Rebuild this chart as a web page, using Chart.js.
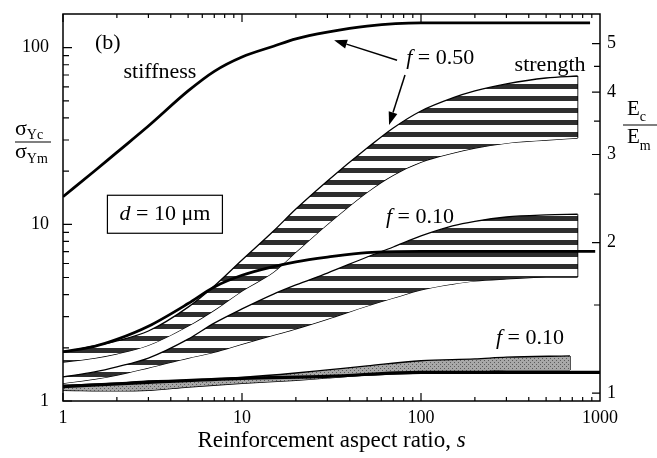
<!DOCTYPE html>
<html>
<head>
<meta charset="utf-8">
<title>Reinforcement aspect ratio</title>
<script src="https://cdn.jsdelivr.net/npm/chart.js@4.4.1/dist/chart.umd.min.js"></script>
<style>
  html, body { margin: 0; padding: 0; background: #fff; }
  #wrap { position: relative; width: 657px; height: 458px; }
</style>
</head>
<body>
<div id="wrap"><canvas id="chart"></canvas></div>
<script>
// aspect ratios where the strength bands were read
const sBand = [1, 1.5, 2, 3, 5, 7, 10, 15, 20, 30, 50, 70, 100, 150, 200, 300, 500, 750];
// f = 0.50 strength band (sigma_Yc / sigma_Ym)
const bandHiUpper = [1.89, 2.05, 2.19, 2.49, 3.40, 4.48, 6.28, 9.16, 12.2, 17.6, 27.0, 35.1, 43.8, 51.9, 56.9, 62.3, 67.3, 69.1];
const bandHiLower = [1.66, 1.75, 1.85, 2.07, 2.66, 3.27, 4.20, 5.37, 6.97, 10.0, 15.2, 19.0, 22.5, 25.3, 27.0, 28.8, 30.0, 30.8];
// f = 0.10 strength band
const bandLoUpper = [1.37, 1.46, 1.56, 1.75, 2.24, 2.76, 3.32, 4.03, 4.54, 5.30, 6.53, 7.44, 8.59, 9.79, 10.4, 11.0, 11.3, 11.4];
const bandLoLower = [1.26, 1.33, 1.40, 1.54, 1.75, 1.89, 2.10, 2.36, 2.56, 2.91, 3.45, 3.83, 4.25, 4.59, 4.78, 4.91, 5.03, 5.03];
// grey band, f = 0.10
const sGray = [1, 2, 3, 5, 10, 20, 30, 50, 100, 200, 300, 680];
const grayUpper = [1.23, 1.26, 1.30, 1.31, 1.36, 1.44, 1.50, 1.58, 1.69, 1.73, 1.77, 1.80];
const grayLower = [1.15, 1.14, 1.15, 1.20, 1.26, 1.31, 1.35, 1.40, 1.44, 1.46, 1.50, 1.50];
// stiffness curves (E_c / E_m, right axis)
const sStiffHi = [1, 1.5, 2, 3, 5, 7, 10, 15, 20, 30, 50, 100, 880];
const stiffHi = [2.47, 2.78, 3.03, 3.42, 4.02, 4.40, 4.70, 4.94, 5.11, 5.27, 5.42, 5.50, 5.50];
const sStiffLo = [1, 1.5, 2, 3, 5, 7, 10, 15, 20, 30, 50, 100, 940];
const stiffLo = [1.21, 1.24, 1.28, 1.36, 1.51, 1.63, 1.72, 1.79, 1.83, 1.87, 1.91, 1.92, 1.92];
const sBase = [1, 3, 10, 30, 100, 1000];
const baseLine = [1.03, 1.05, 1.07, 1.08, 1.10, 1.10];
// tick labels
const xTicks = [1, 10, 100, 1000];
const yTicks = [1, 10, 100];
const y2Ticks = [1, 2, 3, 4, 5];
const y2Minor = [1.5, 2.5, 3.5, 4.5];

const serif = "'Liberation Serif', 'Times New Roman', serif";
const canvas = document.getElementById('chart');
const ctx = canvas.getContext('2d');

// rayas horizontales de las bandas de resistencia
function stripePattern() {
    const c = document.createElement('canvas');
    c.width = 6; c.height = 12;
    const g = c.getContext('2d');
    g.fillStyle = '#ffffff'; g.fillRect(0, 0, 6, 12);
    g.fillStyle = '#2e2e2e'; g.fillRect(0, 0, 6, 5);
    return ctx.createPattern(c, 'repeat');
}
function grayPattern() {
    const c = document.createElement('canvas');
    c.width = 4; c.height = 4;
    const g = c.getContext('2d');
    g.fillStyle = '#a8a8a8'; g.fillRect(0, 0, 4, 4);
    g.fillStyle = '#5a5a5a'; g.fillRect(0, 0, 1, 1); g.fillRect(2, 2, 1, 1);
    return ctx.createPattern(c, 'repeat');
}

const pts = (xs, ys) => xs.map((s, i) => ({ x: s, y: ys[i] }));
const last = a => a[a.length - 1];
const edge = { borderColor: '#000', borderWidth: 1.3, pointRadius: 0, cubicInterpolationMode: 'monotone', fill: false, yAxisID: 'y', order: 2 };
const stripes = stripePattern();

function band(xs, up, lo, bg) {
    return [
        { ...edge, data: pts(xs, up), fill: '+1', backgroundColor: bg },
        { ...edge, data: pts(xs, lo) },
        { ...edge, data: [{ x: last(xs), y: last(lo) }, { x: last(xs), y: last(up) }] }
    ];
}
const thick = (xs, ys, w) => ({ borderColor: '#000', borderWidth: w, pointRadius: 0, cubicInterpolationMode: 'monotone', fill: false, yAxisID: 'y2', order: 0, data: pts(xs, ys) });

const datasets = [
    ...band(sBand, bandHiUpper, bandHiLower, stripes),
    ...band(sBand, bandLoUpper, bandLoLower, stripes),
    ...band(sGray, grayUpper, grayLower, grayPattern()),
    thick(sStiffHi, stiffHi, 2.8),
    thick(sStiffLo, stiffLo, 2.8),
    thick(sBase, baseLine, 3.2)
];

// notas dentro del grafico, en coordenadas de datos
const notes = [
    { parts: [['(b)', '']], at: [1.78, 106] },
    { parts: [['stiffness', '']], at: [3.48, 72.8] },
    { parts: [['f', 'italic '], [' = 0.50', '']], at: [128, 87.4] },
    { parts: [['strength', '']], at: [526, 79.7] },
    { parts: [['f', 'italic '], [' = 0.10', '']], at: [98.7, 11.0] },
    { parts: [['f', 'italic '], [' = 0.10', '']], at: [406, 2.27] },
    { parts: [['d', 'italic '], [' = 10 μm', '']], at: [3.71, 11.4], box: [115, 38] }
];
const arrows = [
    { from: [73.5, 4.63, 'y2'], to: [32.7, 5.08, 'y2'] },
    { from: [81.4, 70, 'y'], to: [66.3, 36.5, 'y'] }
];

function drawParts(c, parts, cx, cy, size) {
    let w = 0;
    for (const [t, st] of parts) { c.font = st + size + 'px ' + serif; w += c.measureText(t).width; }
    let x = cx - w / 2;
    c.textBaseline = 'middle'; c.textAlign = 'left';
    for (const [t, st] of parts) {
        c.font = st + size + 'px ' + serif;
        c.fillText(t, x, cy);
        x += c.measureText(t).width;
    }
    return w;
}

const decor = {
    id: 'decor',
    afterDraw(chart) {
        const { ctx: c, chartArea: a, scales } = chart;
        const { x, y, y2 } = scales;
        c.save();
        c.strokeStyle = '#000';
        c.fillStyle = '#000';
        // marcas hacia dentro
        c.lineWidth = 1.2;
        c.beginPath();
        for (let d = 1; d < 1000; d *= 10) {
            for (let m = 1; m < 10; m++) {
                const px = x.getPixelForValue(d * m);
                const len = m === 1 ? 8 : 4;
                c.moveTo(px, a.bottom); c.lineTo(px, a.bottom - len);
                c.moveTo(px, a.top); c.lineTo(px, a.top + len);
            }
        }
        for (let d = 1; d <= 100; d *= 10) {
            for (let m = 1; m < 10; m++) {
                const v = d * m;
                if (v > y.max) break;
                const py = y.getPixelForValue(v);
                const len = m === 1 ? 9 : 6;
                c.moveTo(a.left, py); c.lineTo(a.left + len, py);
            }
        }
        for (const v of y2Ticks) { const py = y2.getPixelForValue(v); c.moveTo(a.right, py); c.lineTo(a.right - 8, py); }
        for (const v of y2Minor) { const py = y2.getPixelForValue(v); c.moveTo(a.right, py); c.lineTo(a.right - 6, py); }
        c.stroke();
        c.lineWidth = 1.5;
        c.strokeRect(a.left, a.top, a.width, a.height);

        // notas
        for (const n of notes) {
            const cx = x.getPixelForValue(n.at[0]);
            const cy = y.getPixelForValue(n.at[1]);
            drawParts(c, n.parts, cx, cy, 22);
            if (n.box) {
                c.lineWidth = 1.2;
                c.strokeRect(cx - n.box[0] / 2, cy - n.box[1] / 2, n.box[0], n.box[1]);
            }
        }
        // flechas
        c.lineWidth = 1.5;
        for (const ar of arrows) {
            const x0 = x.getPixelForValue(ar.from[0]), y0 = scales[ar.from[2]].getPixelForValue(ar.from[1]);
            const x1 = x.getPixelForValue(ar.to[0]), y1 = scales[ar.to[2]].getPixelForValue(ar.to[1]);
            const ang = Math.atan2(y1 - y0, x1 - x0);
            const hl = 13, hw = 4.5;
            const bx = x1 - hl * Math.cos(ang), by = y1 - hl * Math.sin(ang);
            c.beginPath(); c.moveTo(x0, y0); c.lineTo(bx, by); c.stroke();
            c.beginPath();
            c.moveTo(x1, y1);
            c.lineTo(bx + hw * Math.sin(ang), by - hw * Math.cos(ang));
            c.lineTo(bx - hw * Math.sin(ang), by + hw * Math.cos(ang));
            c.closePath(); c.fill();
        }

        // titulo eje x
        drawParts(c, [['Reinforcement aspect ratio, ', ''], ['s', 'italic ']], (a.left + a.right) / 2, a.bottom + 40, 23);

        // titulo eje izquierdo: sigma_Yc / sigma_Ym
        c.textBaseline = 'alphabetic'; c.textAlign = 'left';
        const lx = 15;
        c.font = '22px ' + serif; c.fillText('σ', lx, 135);
        const sw = c.measureText('σ').width;
        c.font = '14px ' + serif; c.fillText('Yc', lx + sw, 139);
        c.font = '22px ' + serif; c.fillText('σ', lx, 158);
        c.font = '14px ' + serif; c.fillText('Ym', lx + sw, 163);
        c.lineWidth = 1.2;
        c.beginPath(); c.moveTo(lx, 142); c.lineTo(lx + 36, 142); c.stroke();

        // titulo eje derecho: E_c / E_m
        const rx = 627;
        c.font = '21px ' + serif; c.fillText('E', rx, 115);
        const ew = c.measureText('E').width;
        c.font = '14px ' + serif; c.fillText('c', rx + ew, 121);
        c.font = '21px ' + serif; c.fillText('E', rx, 143);
        c.font = '14px ' + serif; c.fillText('m', rx + ew, 150);
        c.beginPath(); c.moveTo(623, 125); c.lineTo(657, 125); c.stroke();
        c.restore();
    }
};

const tickFont = { family: serif, size: 18 };
const zeroPad = s => { s.paddingTop = 0; s.paddingBottom = 0; s.paddingLeft = 0; s.paddingRight = 0; };

new Chart(canvas, {
    type: 'line',
    data: { datasets },
    options: {
        responsive: true,
        maintainAspectRatio: false,
        animation: false,
        events: [],
        layout: { padding: { top: 14, left: 0, right: 0, bottom: 0 } },
        plugins: { legend: { display: false }, tooltip: { enabled: false } },
        scales: {
            x: {
                type: 'logarithmic', min: 1, max: 1000, position: 'bottom',
                grid: { display: false, drawTicks: false }, border: { display: false },
                afterBuildTicks: s => { s.ticks = xTicks.map(v => ({ value: v })); },
                afterFit: s => { s.height = 57; zeroPad(s); },
                ticks: { color: '#000', font: tickFont, padding: 6, maxRotation: 0, callback: v => String(v) }
            },
            y: {
                type: 'logarithmic', min: 1, max: 155, position: 'left',
                grid: { display: false, drawTicks: false }, border: { display: false },
                afterBuildTicks: s => { s.ticks = yTicks.map(v => ({ value: v })); },
                afterFit: s => { s.width = 63; zeroPad(s); },
                ticks: { color: '#000', font: tickFont, padding: 14, callback: v => String(v) }
            },
            y2: {
                type: 'logarithmic', min: 0.964, max: 5.73, position: 'right',
                grid: { display: false, drawTicks: false }, border: { display: false },
                afterBuildTicks: s => { s.ticks = y2Ticks.map(v => ({ value: v })); },
                afterFit: s => { s.width = 57; zeroPad(s); },
                ticks: { color: '#000', font: tickFont, padding: 7, callback: v => String(v) }
            }
        }
    },
    plugins: [decor]
});
</script>
</body>
</html>
